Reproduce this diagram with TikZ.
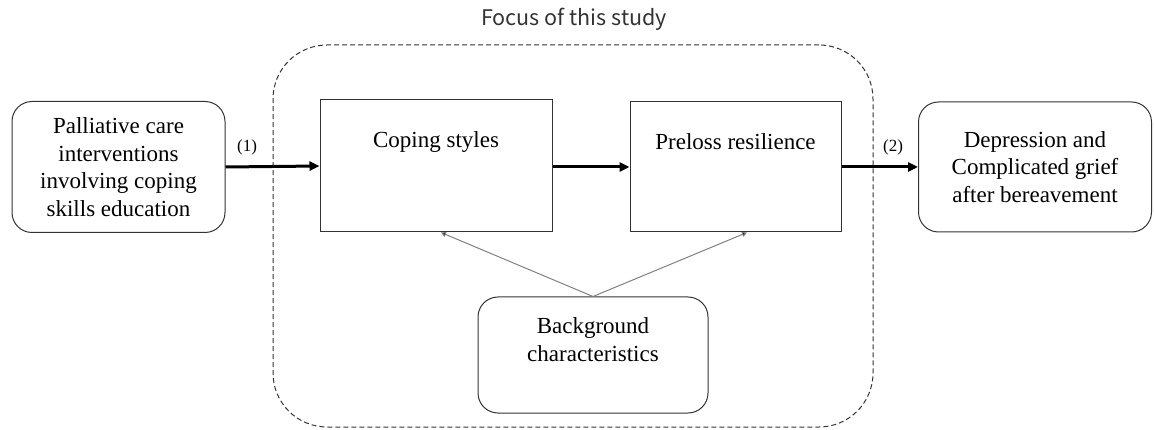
\documentclass[tikz,border=0pt]{standalone}
\usepackage{fontspec}
\setmainfont{Liberation Serif}
\newfontfamily\focusfont{Noto Sans CJK JP}
\usetikzlibrary{arrows.meta}
\begin{document}
\begin{tikzpicture}[x=1pt,y=-1pt,
  txt/.style={font=\fontsize{23}{27.5}\selectfont, align=center},
  rbox/.style={draw=black!80, line width=1pt, rounded corners=20pt, inner sep=0pt, txt},
  sbox/.style={draw=black!80, line width=1pt, inner sep=0pt},
  bigarrow/.style={line width=3pt, -{Triangle[length=10pt,width=9pt]}},
  thinarrow/.style={draw=black!50, line width=1pt, -{Triangle[length=5pt,width=5pt,fill=black]}},
  lab/.style={font=\fontsize{17}{20}\selectfont}]
\useasboundingbox (0,0) rectangle (1154,430);
% focus region
\node[draw=black!80, dash pattern=on 5pt off 3pt, line width=1pt, rounded corners=54pt, minimum width=600pt, minimum height=382pt, inner sep=0pt] (focus) at (573,236) {};
\node[font=\focusfont\fontsize{21.5}{24}\selectfont, text=black!80] (focuslabel) at (574,19) {Focus of this study};
% boxes
\node[rbox, minimum width=213pt, minimum height=131pt] (pal) at (118.5,167) {Palliative care\\interventions\\involving coping\\skills education};
\node[sbox, minimum width=232pt, minimum height=132pt] (cop) at (436,166) {};
\node[txt] (coptext) at (436,142) {Coping styles};
\node[sbox, minimum width=211pt, minimum height=130pt] (pre) at (735.5,167) {};
\node[txt] (pretext) at (735.5,142) {Preloss resilience};
\node[rbox, minimum width=233pt, minimum height=130pt] (dep) at (1035,167) {Depression and\\Complicated grief\\after bereavement};
\node[rbox, minimum width=230pt, minimum height=116pt,
  label={[txt, anchor=north, yshift=-18pt]north:Background\\characteristics}] (bg) at (593,355) {};
% arrows
\draw[bigarrow] (pal.east) -- (cop.west);
\draw[bigarrow] (cop.east |- pal.east) -- (pre.west);
\draw[bigarrow] (pre.east) -- (dep.west);
\node[lab] (l1) at (247,147) {(1)};
\node[lab] (l2) at (893,147) {(2)};
\draw[thinarrow] (bg.north) -- ([xshift=5pt]cop.south);
\draw[thinarrow] (bg.north) -- ([xshift=11.5pt]pre.south);
\end{tikzpicture}
\end{document}
